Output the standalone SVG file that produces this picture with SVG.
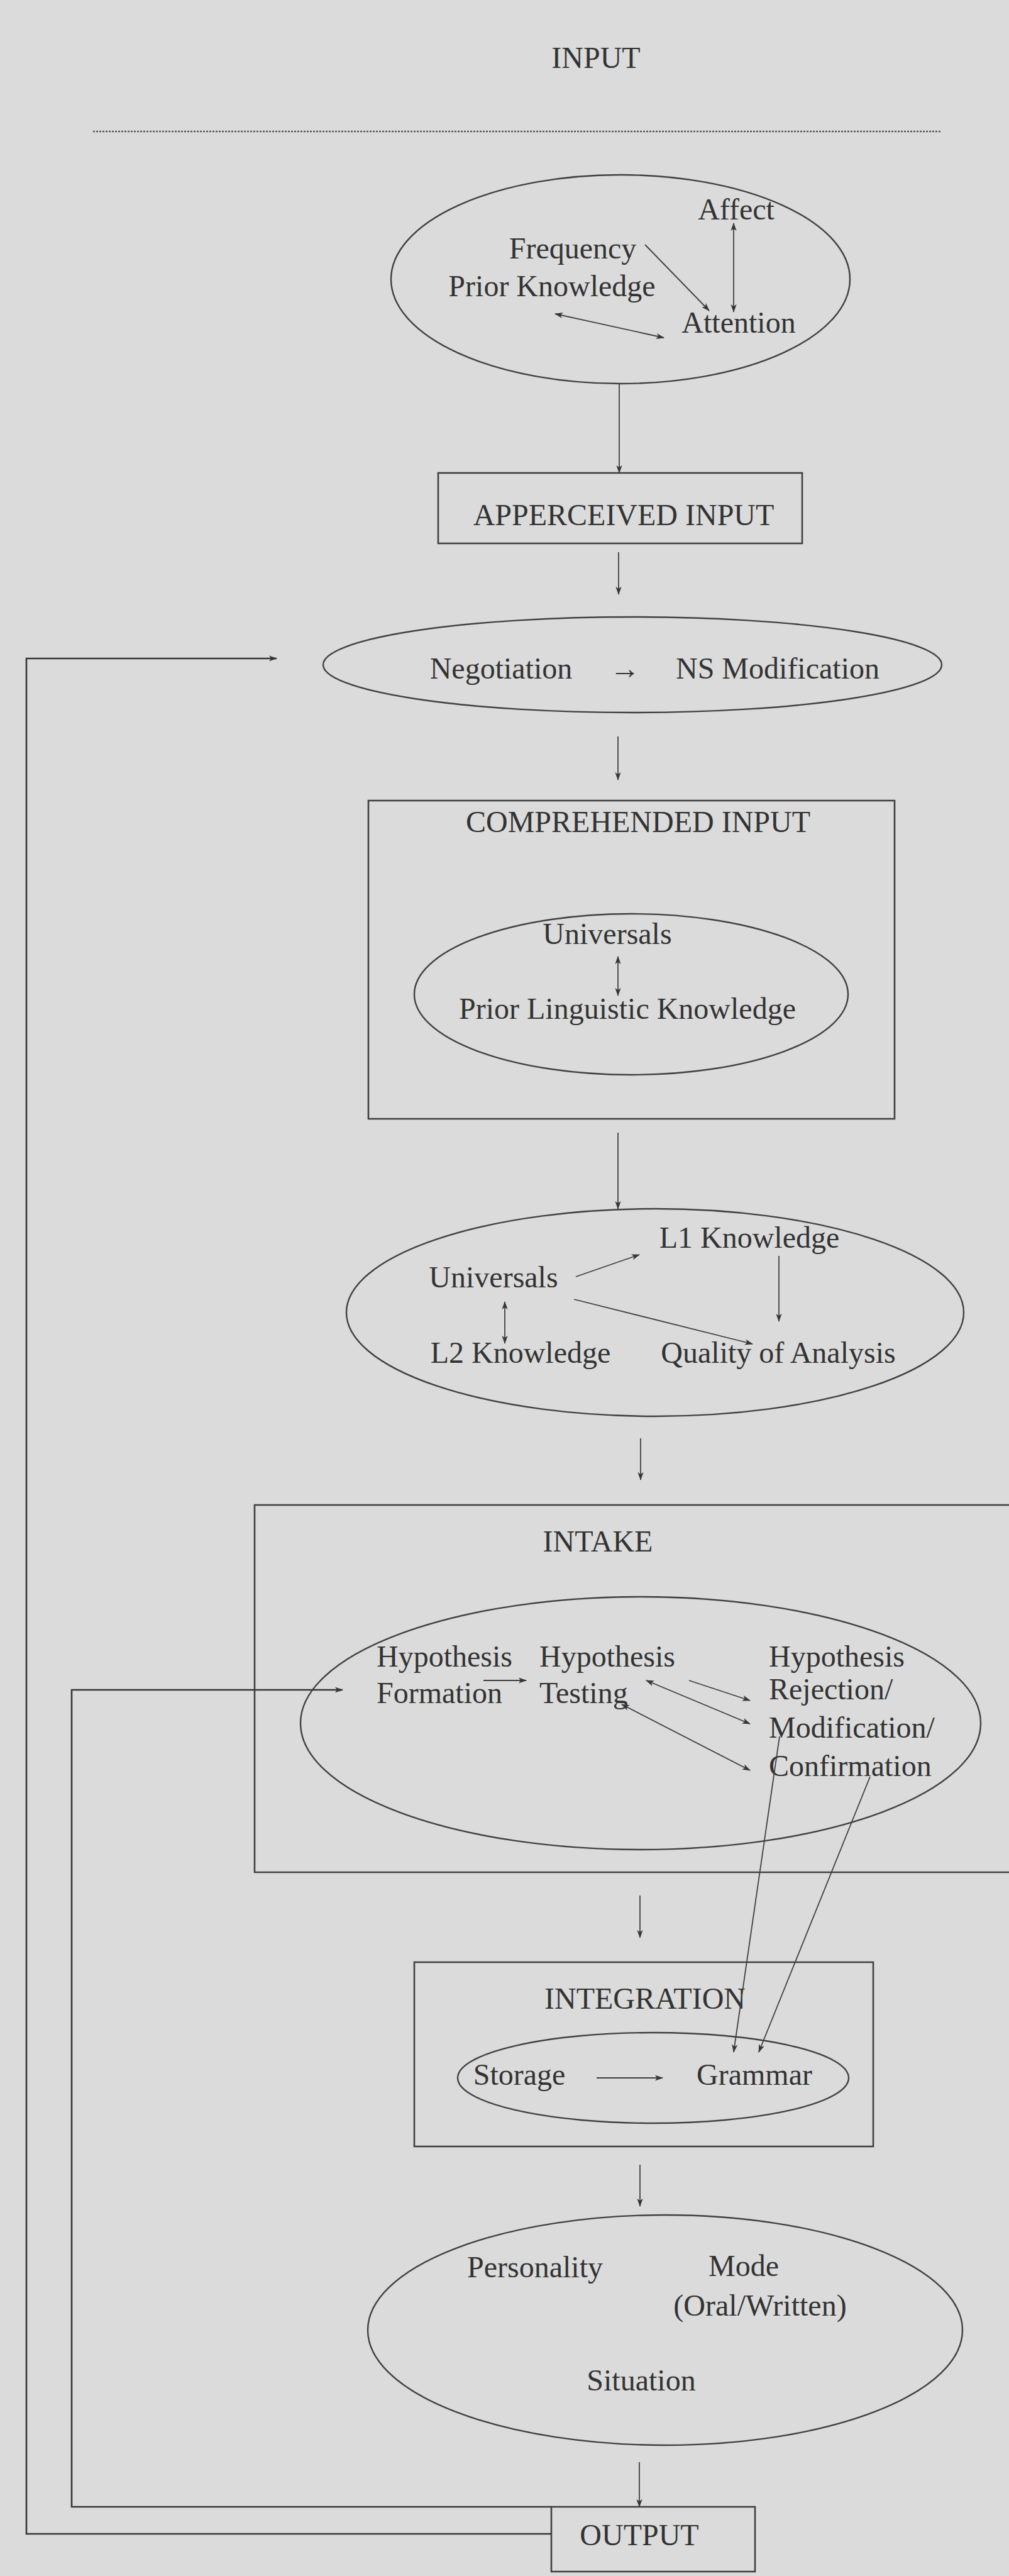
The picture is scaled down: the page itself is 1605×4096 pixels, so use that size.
<svg xmlns="http://www.w3.org/2000/svg" width="1605" height="4096" viewBox="0 0 1605 4096">
  <style>
    text { font-family: "Liberation Serif", "Times New Roman", serif; font-size: 48px; fill: #333; }
    .c { text-anchor: middle; }
    .shape { fill: none; stroke: #404040; stroke-width: 2.4; }
    .box { fill: none; stroke: #404040; stroke-width: 2.6; }
    .ln { fill: none; stroke: #404040; stroke-width: 1.8; }
    .fb { fill: none; stroke: #363636; stroke-width: 2.6; }
  </style>
  <defs>
    <marker id="ah" viewBox="0 0 12 10" refX="11" refY="5" markerWidth="14" markerHeight="11" markerUnits="userSpaceOnUse" orient="auto-start-reverse">
      <path d="M0,0.8 L12,5 L0,9.2 L3,5 z" fill="#363636"/>
    </marker>
  </defs>

  <rect x="0" y="0" width="1605" height="4096" fill="#dbdbdb"/>

  <!-- heading and rule -->
  <g id="input-title">
    <text class="c" x="948" y="108">INPUT</text>
    <line x1="148" y1="209" x2="1497" y2="209" stroke="#5a5a5a" stroke-width="2.4" stroke-dasharray="3 2"/>
  </g>

  <!-- attention factors -->
  <g id="attention">
    <ellipse class="shape" cx="987" cy="444" rx="365" ry="166"/>
    <text class="c" x="1171" y="349">Affect</text>
    <text class="c" x="911" y="411">Frequency</text>
    <text class="c" x="878" y="471">Prior Knowledge</text>
    <text class="c" x="1175" y="529">Attention</text>
  </g>

  <g id="apperceived-input">
    <rect class="box" x="697" y="752" width="579" height="112"/>
    <text class="c" x="992" y="835">APPERCEIVED INPUT</text>
  </g>

  <g id="negotiation">
    <ellipse class="shape" cx="1006" cy="1057" rx="492" ry="76"/>
    <text class="c" x="797" y="1079">Negotiation</text>
    <text class="c" x="994" y="1079">→</text>
    <text class="c" x="1237" y="1079">NS Modification</text>
  </g>

  <g id="comprehended-input">
    <rect class="box" x="586" y="1273" width="837" height="506"/>
    <text class="c" x="1015" y="1323">COMPREHENDED INPUT</text>
    <ellipse class="shape" cx="1004" cy="1581" rx="345" ry="128"/>
    <text class="c" x="966" y="1501">Universals</text>
    <text class="c" x="998" y="1620">Prior Linguistic Knowledge</text>
  </g>

  <g id="analysis">
    <ellipse class="shape" cx="1042" cy="2087" rx="491" ry="165"/>
    <text class="c" x="1192" y="1984">L1 Knowledge</text>
    <text class="c" x="785" y="2047">Universals</text>
    <text class="c" x="828" y="2167">L2 Knowledge</text>
    <text class="c" x="1238" y="2167">Quality of Analysis</text>
  </g>

  <g id="intake">
    <path class="box" d="M1620 2393 H405 V2977 H1620"/>
    <text class="c" x="951" y="2467">INTAKE</text>
    <ellipse class="shape" cx="1019" cy="2740" rx="541" ry="201"/>
    <text x="599" y="2650">Hypothesis</text>
    <text x="599" y="2708">Formation</text>
    <text x="858" y="2650">Hypothesis</text>
    <text x="858" y="2708">Testing</text>
    <text x="1223" y="2650">Hypothesis</text>
    <text x="1223" y="2702">Rejection/</text>
    <text x="1223" y="2763">Modification/</text>
    <text x="1223" y="2824">Confirmation</text>
  </g>

  <g id="integration">
    <rect class="box" x="659" y="3120" width="730" height="293"/>
    <text class="c" x="1026" y="3194">INTEGRATION</text>
    <ellipse class="shape" cx="1039" cy="3304" rx="311" ry="72"/>
    <text class="c" x="826" y="3315">Storage</text>
    <text class="c" x="1200" y="3315">Grammar</text>
  </g>

  <g id="output-factors">
    <ellipse class="shape" cx="1058" cy="3705" rx="473" ry="183"/>
    <text class="c" x="851" y="3621">Personality</text>
    <text class="c" x="1183" y="3619">Mode</text>
    <text class="c" x="1209" y="3682">(Oral/Written)</text>
    <text class="c" x="1020" y="3801">Situation</text>
  </g>

  <g id="output">
    <rect class="box" x="877" y="3986" width="324" height="103"/>
    <text class="c" x="1017" y="4047">OUTPUT</text>
  </g>

  <g id="connectors">
    <!-- main downward flow -->
    <line class="ln" x1="985" y1="610" x2="985" y2="752" marker-end="url(#ah)"/>
    <line class="ln" x1="984" y1="878" x2="984" y2="945" marker-end="url(#ah)"/>
    <line class="ln" x1="983" y1="1171" x2="983" y2="1240" marker-end="url(#ah)"/>
    <line class="ln" x1="983" y1="1801" x2="983" y2="1922" marker-end="url(#ah)"/>
    <line class="ln" x1="1019" y1="2287" x2="1019" y2="2353" marker-end="url(#ah)"/>
    <line class="ln" x1="1018" y1="3014" x2="1018" y2="3081" marker-end="url(#ah)"/>
    <line class="ln" x1="1018" y1="3442" x2="1018" y2="3508" marker-end="url(#ah)"/>
    <line class="ln" x1="1017" y1="3915" x2="1017" y2="3986" marker-end="url(#ah)"/>

    <!-- inside attention -->
    <line class="ln" x1="1167" y1="355" x2="1167" y2="496" marker-start="url(#ah)" marker-end="url(#ah)"/>
    <line class="ln" x1="1026" y1="389" x2="1128" y2="494" marker-end="url(#ah)"/>
    <line class="ln" x1="883" y1="499" x2="1056" y2="537" marker-start="url(#ah)" marker-end="url(#ah)"/>

    <!-- inside comprehended input -->
    <line class="ln" x1="983" y1="1521" x2="983" y2="1583" marker-start="url(#ah)" marker-end="url(#ah)"/>

    <!-- inside analysis -->
    <line class="ln" x1="916" y1="2030" x2="1017" y2="1995" marker-end="url(#ah)"/>
    <line class="ln" x1="1239" y1="1997" x2="1239" y2="2101" marker-end="url(#ah)"/>
    <line class="ln" x1="913" y1="2066" x2="1197" y2="2137" marker-end="url(#ah)"/>
    <line class="ln" x1="803" y1="2070" x2="803" y2="2136" marker-start="url(#ah)" marker-end="url(#ah)"/>

    <!-- inside intake -->
    <line class="ln" x1="769" y1="2672" x2="837" y2="2672" marker-end="url(#ah)"/>
    <line class="ln" x1="1096" y1="2672" x2="1193" y2="2704" marker-end="url(#ah)"/>
    <line class="ln" x1="1028" y1="2672" x2="1193" y2="2741" marker-start="url(#ah)" marker-end="url(#ah)"/>
    <line class="ln" x1="989" y1="2710" x2="1193" y2="2815" marker-start="url(#ah)" marker-end="url(#ah)"/>

    <!-- intake down to grammar -->
    <line class="ln" x1="1240" y1="2761" x2="1167" y2="3263" marker-end="url(#ah)"/>
    <line class="ln" x1="1384" y1="2825" x2="1207" y2="3263" marker-end="url(#ah)"/>

    <!-- storage to grammar -->
    <line class="ln" x1="949" y1="3304" x2="1054" y2="3304" stroke-width="2.4" marker-end="url(#ah)"/>

    <!-- feedback loops from output -->
    <path class="fb" d="M877 4029 H42 V1047 H440" marker-end="url(#ah)"/>
    <path class="fb" d="M877 3986 H114 V2687 H545" marker-end="url(#ah)"/>
  </g>
</svg>
